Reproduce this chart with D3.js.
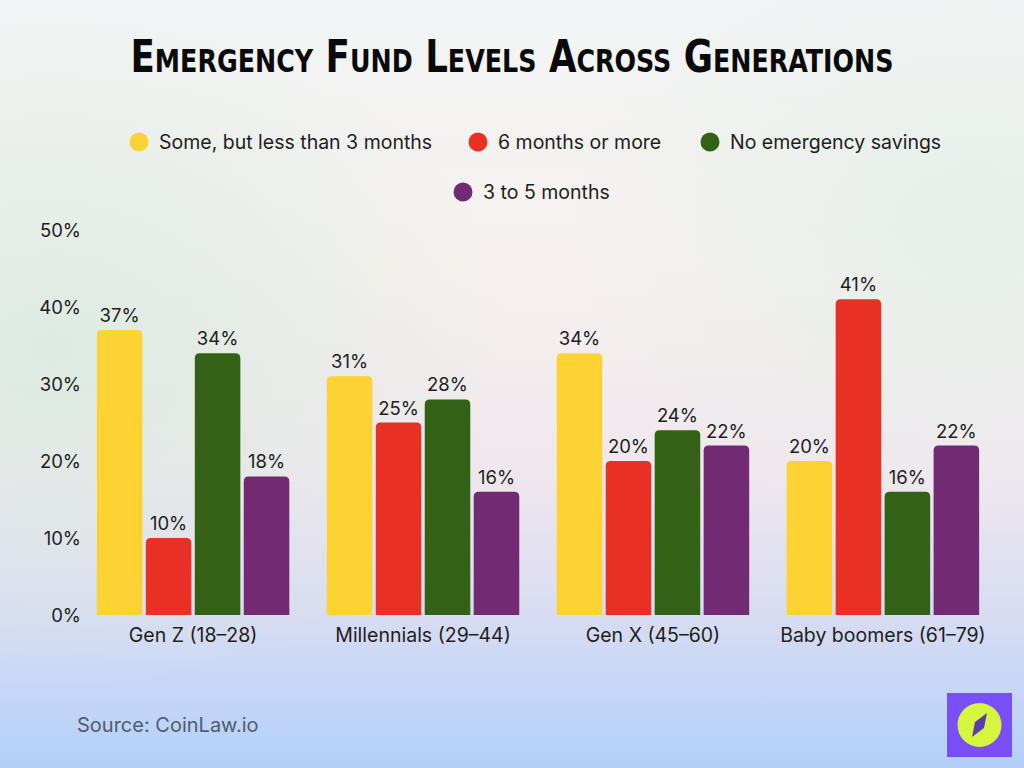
<!DOCTYPE html>
<html>
<head>
<meta charset="utf-8">
<script src="https://cdn.jsdelivr.net/npm/d3@7"></script>
<style>
  html, body { margin: 0; padding: 0; }
  body { width: 1024px; height: 768px; overflow: hidden; }
  svg { display: block; }
</style>
</head>
<body>
<svg id="chart" width="1024" height="768"></svg>
<script>
// chart data
const categories = ['Gen Z (18–28)', 'Millennials (29–44)', 'Gen X (45–60)', 'Baby boomers (61–79)'];
const seriesNames = ['Some, but less than 3 months', '6 months or more', 'No emergency savings', '3 to 5 months'];
const someLess3 = [37, 31, 34, 20];
const sixOrMore = [10, 25, 20, 41];
const noSavings = [34, 28, 24, 16];
const threeToFive = [18, 16, 22, 22];
const yTicks = [0, 10, 20, 30, 40, 50];

const seriesValues = [someLess3, sixOrMore, noSavings, threeToFive];
const colors = ['#fdd233', '#e83024', '#336115', '#722a73'];

const svg = d3.select('#chart');
const font = 'Inter, "Noto Sans", sans-serif';

// background gradient
const defs = svg.append('defs');
const bg = defs.append('linearGradient').attr('id', 'bg')
    .attr('x1', 0).attr('y1', 0).attr('x2', 0).attr('y2', 1);
[['0%', '#f2f4f5'], ['35%', '#f6f1ee'], ['62%', '#efe7ee'], ['80%', '#d8dcf2'], ['100%', '#b3d0fa']]
    .forEach(s => bg.append('stop').attr('offset', s[0]).attr('stop-color', s[1]));
const glow = defs.append('radialGradient').attr('id', 'glow')
    .attr('cx', 0.05).attr('cy', 0.45).attr('r', 0.45);
glow.append('stop').attr('offset', '0%').attr('stop-color', '#d8eadf').attr('stop-opacity', 0.8);
glow.append('stop').attr('offset', '100%').attr('stop-color', '#d8eadf').attr('stop-opacity', 0);
const glow2 = defs.append('radialGradient').attr('id', 'glow2')
    .attr('cx', 0.95).attr('cy', 0.3).attr('r', 0.4);
glow2.append('stop').attr('offset', '0%').attr('stop-color', '#e3efe9').attr('stop-opacity', 0.8);
glow2.append('stop').attr('offset', '100%').attr('stop-color', '#e3efe9').attr('stop-opacity', 0);

svg.append('rect').attr('width', 1024).attr('height', 768).attr('fill', 'url(#bg)');
svg.append('rect').attr('width', 1024).attr('height', 768).attr('fill', 'url(#glow)');
svg.append('rect').attr('width', 1024).attr('height', 768).attr('fill', 'url(#glow2)');

// title
svg.append('text')
    .attr('x', 512).attr('y', 72)
    .attr('text-anchor', 'middle')
    .attr('font-family', '"DejaVu Sans Condensed", "Liberation Sans Narrow", sans-serif')
    .attr('font-weight', 'bold')
    .attr('font-size', 45)
    .style('font-variant', 'small-caps')
    .attr('textLength', 763)
    .attr('lengthAdjust', 'spacingAndGlyphs')
    .attr('fill', '#0a0a0a')
    .text('Emergency Fund Levels Across Generations');

// legend
const legendPos = [[139, 142], [478, 142], [710, 142], [463, 192]];
const legend = svg.append('g').selectAll('g')
    .data(seriesNames)
    .join('g')
    .attr('transform', (d, i) => `translate(${legendPos[i][0]},${legendPos[i][1]})`);
legend.append('circle').attr('r', 9.5).attr('fill', (d, i) => colors[i]);
legend.append('text')
    .attr('x', 20).attr('y', 6.5)
    .attr('font-family', font).attr('font-size', 19.5)
    .attr('fill', '#1e1e1e')
    .text(d => d);

// scales
const xScale = d3.scaleBand()
    .domain(categories)
    .range([78, 998])
    .paddingInner(0.163)
    .paddingOuter(0.082);

const xInner = d3.scaleBand()
    .domain(d3.range(seriesNames.length))
    .range([0, xScale.bandwidth()])
    .paddingInner(0.07);

const yScale = d3.scaleLinear()
    .domain([0, 50])
    .range([615, 230]);

// y axis (labels only)
const yAxis = svg.append('g')
    .attr('transform', 'translate(81,0)')
    .call(d3.axisLeft(yScale).tickValues(yTicks).tickFormat(d => d + '%').tickSize(0).tickPadding(0));
yAxis.select('.domain').remove();
yAxis.selectAll('text')
    .attr('font-family', font).attr('font-size', 18.5)
    .attr('fill', '#1e1e1e')
    .attr('dy', '0.35em');

// x axis (labels only)
const xAxis = svg.append('g')
    .attr('transform', 'translate(0,615)')
    .call(d3.axisBottom(xScale).tickSize(0).tickPadding(13));
xAxis.select('.domain').remove();
xAxis.selectAll('text')
    .attr('font-family', font).attr('font-size', 19.5)
    .attr('fill', '#1e1e1e');

// bars with rounded top corners
function topRoundedBar(x, y, w, h, r) {
    r = Math.min(r, h, w / 2);
    return `M${x},${y + h}V${y + r}Q${x},${y} ${x + r},${y}H${x + w - r}Q${x + w},${y} ${x + w},${y + r}V${y + h}Z`;
}

const groups = svg.append('g').selectAll('g')
    .data(categories)
    .join('g')
    .attr('transform', d => `translate(${xScale(d)},0)`);

groups.each(function (cat, ci) {
    const g = d3.select(this);
    const rows = seriesValues.map((vals, si) => ({ si, v: vals[ci] }));
    g.selectAll('path')
        .data(rows)
        .join('path')
        .attr('fill', d => colors[d.si])
        .attr('d', d => topRoundedBar(xInner(d.si), yScale(d.v), xInner.bandwidth(), yScale(0) - yScale(d.v), 5));
    g.selectAll('text')
        .data(rows)
        .join('text')
        .attr('x', d => xInner(d.si) + xInner.bandwidth() / 2)
        .attr('y', d => yScale(d.v) - 8)
        .attr('text-anchor', 'middle')
        .attr('font-family', font).attr('font-size', 18.5)
        .attr('fill', '#1e1e1e')
        .text(d => d.v + '%');
});

// source
svg.append('text')
    .attr('x', 77).attr('y', 732)
    .attr('font-family', font).attr('font-size', 20)
    .attr('fill', '#4f5d6e')
    .text('Source: CoinLaw.io');

// logo
const logo = svg.append('g').attr('transform', 'translate(947,693)');
logo.append('rect').attr('width', 65).attr('height', 64).attr('fill', '#7b4ff7');
logo.append('circle').attr('cx', 32.5).attr('cy', 32).attr('r', 22).attr('fill', '#d5f53f');
logo.append('path')
    .attr('d', 'M40,20 L37,35 L25,44 L28,29 Z')
    .attr('fill', '#5b3bb0');
</script>
</body>
</html>
